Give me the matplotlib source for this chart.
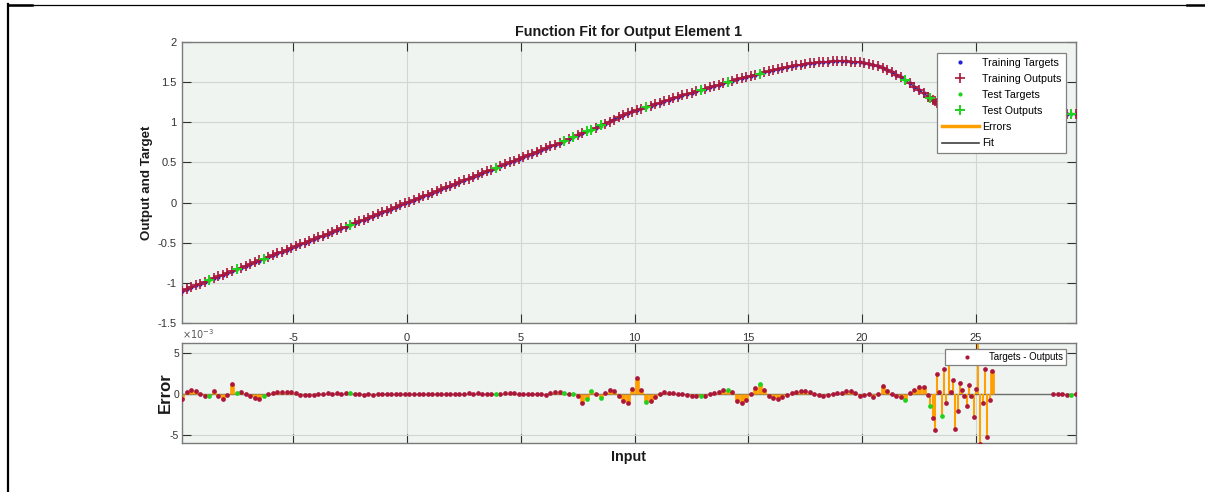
import numpy as np
import matplotlib
matplotlib.use("Agg")
import matplotlib.pyplot as plt
from matplotlib.lines import Line2D

plt.rcParams["font.family"] = ["Liberation Sans", "DejaVu Sans"]
plt.rcParams["axes.unicode_minus"] = False

# ---------------------------------------------------------------- data
# Input samples (three stretches of the input range)
inputs_smooth = [
    -9.9, -9.7, -9.5, -9.3, -9.1, -8.9, -8.7, -8.5, -8.3, -8.1,
    -7.9, -7.7, -7.5, -7.3, -7.1, -6.9, -6.7, -6.5, -6.3, -6.1,
    -5.9, -5.7, -5.5, -5.3, -5.1, -4.9, -4.7, -4.5, -4.3, -4.1,
    -3.9, -3.7, -3.5, -3.3, -3.1, -2.9, -2.7, -2.5, -2.3, -2.1,
    -1.9, -1.7, -1.5, -1.3, -1.1, -0.9, -0.7, -0.5, -0.3, -0.1,
    0.1, 0.3, 0.5, 0.7, 0.9, 1.1, 1.3, 1.5, 1.7, 1.9,
    2.1, 2.3, 2.5, 2.7, 2.9, 3.1, 3.3, 3.5, 3.7, 3.9,
    4.1, 4.3, 4.5, 4.7, 4.9, 5.1, 5.3, 5.5, 5.7, 5.9,
    6.1, 6.3, 6.5, 6.7, 6.9, 7.1, 7.3, 7.5, 7.7, 7.9,
    8.1, 8.3, 8.5, 8.7, 8.9, 9.1, 9.3, 9.5, 9.7, 9.9,
    10.1, 10.3, 10.5, 10.7, 10.9, 11.1, 11.3, 11.5, 11.7, 11.9,
    12.1, 12.3, 12.5, 12.7, 12.9, 13.1, 13.3, 13.5, 13.7, 13.9,
    14.1, 14.3, 14.5, 14.7, 14.9, 15.1, 15.3, 15.5, 15.7, 15.9,
    16.1, 16.3, 16.5, 16.7, 16.9, 17.1, 17.3, 17.5, 17.7, 17.9,
    18.1, 18.3, 18.5, 18.7, 18.9, 19.1, 19.3, 19.5, 19.7, 19.9,
    20.1, 20.3, 20.5, 20.7, 20.9, 21.1, 21.3, 21.5, 21.7, 21.9,
    22.1, 22.3, 22.5, 22.7, 22.9,
]
inputs_dense = [
    23.0, 23.1, 23.2, 23.3, 23.4, 23.5, 23.6, 23.7, 23.8, 23.9,
    24.0, 24.1, 24.2, 24.3, 24.4, 24.5, 24.6, 24.7, 24.8, 24.9,
    25.0, 25.1, 25.2, 25.3, 25.4, 25.5, 25.6, 25.7,
]
inputs_tail = [28.4, 28.6, 28.8, 29.0, 29.2, 29.4]

targets_smooth = [
    -1.099, -1.077, -1.055, -1.032, -1.010, -0.988, -0.966, -0.944, -0.921, -0.899,
    -0.877, -0.855, -0.833, -0.810, -0.788, -0.766, -0.744, -0.722, -0.699, -0.677,
    -0.655, -0.633, -0.611, -0.588, -0.566, -0.544, -0.522, -0.500, -0.477, -0.455,
    -0.433, -0.411, -0.389, -0.366, -0.344, -0.322, -0.300, -0.278, -0.255, -0.233,
    -0.211, -0.189, -0.167, -0.144, -0.122, -0.100, -0.078, -0.056, -0.033, -0.011,
    0.011, 0.033, 0.056, 0.078, 0.100, 0.122, 0.144, 0.167, 0.189, 0.211,
    0.233, 0.255, 0.278, 0.300, 0.322, 0.344, 0.366, 0.389, 0.411, 0.433,
    0.455, 0.477, 0.500, 0.522, 0.544, 0.566, 0.588, 0.611, 0.633, 0.655,
    0.677, 0.699, 0.722, 0.744, 0.767, 0.790, 0.813, 0.837, 0.861, 0.886,
    0.910, 0.935, 0.960, 0.985, 1.010, 1.035, 1.060, 1.085, 1.110, 1.135,
    1.155, 1.172, 1.188, 1.207, 1.225, 1.243, 1.262, 1.280, 1.298, 1.316,
    1.334, 1.352, 1.369, 1.386, 1.402, 1.419, 1.436, 1.453, 1.470, 1.487,
    1.504, 1.520, 1.536, 1.551, 1.566, 1.581, 1.595, 1.609, 1.622, 1.637,
    1.651, 1.664, 1.676, 1.687, 1.698, 1.708, 1.719, 1.729, 1.737, 1.744,
    1.750, 1.754, 1.757, 1.759, 1.760, 1.760, 1.759, 1.757, 1.753, 1.747,
    1.739, 1.728, 1.714, 1.698, 1.679, 1.655, 1.626, 1.594, 1.560, 1.523,
    1.485, 1.445, 1.405, 1.363, 1.320,
]
targets_dense = [
    1.300, 1.280, 1.262, 1.244, 1.228, 1.212, 1.198, 1.186, 1.175, 1.165,
    1.157, 1.150, 1.144, 1.139, 1.135, 1.131, 1.128, 1.125, 1.123, 1.121,
    1.119, 1.118, 1.117, 1.116, 1.115, 1.114, 1.113, 1.113,
]
targets_tail = [1.110, 1.110, 1.109, 1.109, 1.108, 1.108]

# Targets - Outputs, in units of 1e-3
errors_smooth = [
    -0.60, 0.30, 0.50, 0.35, 0.00, -0.20, -0.20, 0.40, -0.20, -0.65,
    -0.10, 1.20, 0.15, 0.30, 0.00, -0.20, -0.45, -0.60, -0.25, 0.00,
    0.15, 0.25, 0.30, 0.25, 0.20, 0.10, -0.10, -0.15, -0.10, -0.15,
    -0.05, 0.05, 0.10, 0.05, 0.10, 0.05, 0.10, 0.10, 0.05, 0.00,
    -0.10, 0.00, -0.10, 0.05, 0.00, 0.05, 0.00, 0.05, 0.00, 0.05,
    0.00, 0.05, -0.05, 0.05, 0.00, -0.05, 0.00, -0.05, 0.05, 0.00,
    0.05, -0.05, 0.05, 0.10, 0.05, 0.10, 0.05, 0.00, 0.05, 0.00,
    0.05, 0.10, 0.15, 0.10, 0.05, 0.05, 0.05, 0.00, 0.00, -0.05,
    -0.10, 0.10, 0.30, 0.30, 0.15, 0.00, 0.00, -0.30, -1.05, -0.60,
    0.40, 0.00, -0.45, 0.10, 0.55, 0.35, -0.30, -0.90, -1.15, 0.60,
    2.00, 0.50, -1.00, -0.85, -0.40, 0.05, 0.20, 0.10, 0.15, 0.05,
    -0.05, -0.15, -0.25, -0.30, -0.25, -0.20, -0.05, 0.10, 0.30, 0.45,
    0.55, 0.20, -0.80, -1.10, -0.70, 0.00, 0.70, 1.25, 0.50, -0.20,
    -0.45, -0.60, -0.40, -0.10, 0.10, 0.30, 0.40, 0.35, 0.20, 0.05,
    -0.10, -0.20, -0.10, 0.05, 0.10, 0.15, 0.35, 0.40, 0.10, -0.20,
    -0.10, 0.05, -0.40, 0.00, 0.95, 0.40, 0.05, -0.20, -0.40, -0.70,
    0.10, 0.45, 0.90, 0.85, -0.10,
]
errors_dense = [
    -1.50, -2.95, -4.45, 2.50, 0.30, -2.65, 3.00, -1.10, 4.60, 0.20,
    1.70, -4.30, -2.10, 1.40, 0.50, -0.30, -1.45, 1.10, -0.30, -2.80,
    0.60, 7.00, -6.10, -1.10, 3.05, -5.20, -0.70, 2.80,
]
errors_tail = [-0.05, 0.00, -0.05, -0.10, -0.10, 0.05]

# Inputs held out as the test set
test_inputs = [-8.7, -7.5, -6.3, -2.5, 3.9, 6.9, 7.3, 7.9, 8.1, 8.5,
               10.5, 12.9, 14.1, 15.5, 21.9, 23.0, 23.5, 29.2]

x_ticks = [-5, 0, 5, 10, 15, 20, 25]
y_ticks_fit = [-1.5, -1, -0.5, 0, 0.5, 1, 1.5, 2]
y_ticklabels_fit = ["-1.5", "-1", "-0.5", "0", "0.5", "1", "1.5", "2"]
y_ticks_err = [-5e-3, 0, 5e-3]
y_ticklabels_err = ["-5", "0", "5"]

# ---------------------------------------------------------------- arrays
x = np.array(inputs_smooth + inputs_dense + inputs_tail)
t = np.array(targets_smooth + targets_dense + targets_tail)
e = np.array(errors_smooth + errors_dense + errors_tail) * 1e-3
y = t - e
is_test = np.isin(np.round(x, 2), np.round(test_inputs, 2))
is_train = ~is_test

BLUE = "#2020d8"
RED = "#ac163a"
GREEN = "#1ed21e"
ORANGE = "#ffa000"
FIT = "#404040"
FACE = "#eff4f0"
GRID = "#d2d6d3"
SPINE = "#7a7a7a"
TICK = "#303030"
LABEL = "#333333"

fig = plt.figure(figsize=(12.05, 4.92), dpi=100)

ax1 = fig.add_axes([0.1510, 0.3435, 0.7419, 0.5711])
ax2 = fig.add_axes([0.1510, 0.1002, 0.7419, 0.2020])

for ax in (ax1, ax2):
    ax.set_facecolor(FACE)
    ax.grid(True, color=GRID, lw=0.8)
    ax.set_axisbelow(True)
    for s in ax.spines.values():
        s.set_color(SPINE)
        s.set_linewidth(1.0)
    ax.tick_params(direction="in", top=True, right=True, length=6.5,
                   width=0.8, color=TICK, labelcolor=LABEL)
    ax.set_xticks(x_ticks)
    ax.set_xlim(x.min(), x.max())

# ---------------------------------------------------------------- fit panel
ax1.plot(x, y, color=FIT, lw=1.0, zorder=2)
ax1.plot(x[is_train], t[is_train], ls="none", marker=".", ms=4, color=BLUE, zorder=3)
ax1.plot(x[is_train], y[is_train], ls="none", marker="+", ms=7, mew=1.2,
         color=RED, zorder=4)
ax1.plot(x[is_test], t[is_test], ls="none", marker=".", ms=4, color=GREEN, zorder=5)
ax1.plot(x[is_test], y[is_test], ls="none", marker="+", ms=7.5, mew=1.4,
         color=GREEN, zorder=6)

ax1.set_ylim(-1.5, 2)
ax1.set_yticks(y_ticks_fit)
ax1.set_yticklabels(y_ticklabels_fit)
ax1.tick_params(axis="x", labelsize=8, pad=7)
ax1.tick_params(axis="y", labelsize=8, pad=4)
ax1.set_title("Function Fit for Output Element 1", fontsize=10.3,
              fontweight="bold", pad=4, color="#1a1a1a")
ax1.set_ylabel("Output and Target", fontsize=9.6, fontweight="bold", color="#1a1a1a")
ax1.yaxis.set_label_coords(-0.0322, 0.5)

handles = [
    Line2D([], [], ls="none", marker=".", ms=4, color=BLUE),
    Line2D([], [], ls="none", marker="+", ms=7, mew=1.2, color=RED),
    Line2D([], [], ls="none", marker=".", ms=4, color=GREEN),
    Line2D([], [], ls="none", marker="+", ms=7.5, mew=1.4, color=GREEN),
    Line2D([], [], color=ORANGE, lw=2.5),
    Line2D([], [], color=FIT, lw=1.2),
]
labels = ["Training Targets", "Training Outputs", "Test Targets",
          "Test Outputs", "Errors", "Fit"]
leg1 = ax1.legend(handles, labels, loc="upper right",
                  bbox_to_anchor=(0.9888, 0.9609), borderaxespad=0,
                  fontsize=7.7, handlelength=3.4, handletextpad=0.3,
                  labelspacing=0.57, borderpad=0.45, fancybox=False,
                  framealpha=1, edgecolor="#808080")
leg1.get_frame().set_linewidth(0.9)
leg1.set_zorder(10)

# ---------------------------------------------------------------- error panel
spacing = np.gradient(x)
stem_w = np.where(spacing > 0.15, 3.4, 1.5)
ax2.axhline(0, color="#6e6e6e", lw=1.0, zorder=1.5)
ax2.vlines(x, 0, e, colors=ORANGE, linewidths=stem_w, capstyle="butt", zorder=2)
ax2.plot(x[is_train], e[is_train], ls="none", marker="o", ms=3.4, mew=0,
         color=RED, zorder=3)
ax2.plot(x[is_test], e[is_test], ls="none", marker="o", ms=3.4, mew=0,
         color=GREEN, zorder=4)

ax2.set_ylim(-5.95e-3, 6.2e-3)
ax2.set_yticks(y_ticks_err)
ax2.set_yticklabels(y_ticklabels_err)
ax2.text(0.0, 1.02, r"$\times10^{-3}$", transform=ax2.transAxes,
         fontsize=7, color="#555555", ha="left", va="bottom")
ax2.tick_params(axis="x", labelbottom=False)
ax2.tick_params(axis="y", labelsize=7.5, pad=2)
ax2.set_xlabel("Input", fontsize=10.3, fontweight="bold", labelpad=5, color="#1a1a1a")
ax2.set_ylabel("Error", fontsize=12, fontweight="bold", color="#1a1a1a")
ax2.yaxis.set_label_coords(-0.0105, 0.5)

leg2 = ax2.legend([Line2D([], [], ls="none", marker="o", ms=3, mew=0, color=RED)],
                  ["Targets - Outputs"], loc="upper right",
                  bbox_to_anchor=(0.9888, 0.943), borderaxespad=0,
                  fontsize=6.9, handlelength=3.9, handletextpad=0.4,
                  borderpad=0.3, fancybox=False, framealpha=1,
                  edgecolor="#808080")
leg2.get_frame().set_linewidth(0.9)
leg2.set_zorder(10)

# ---------------------------------------------------------------- page border
W, H = 1205.0, 492.0
def border(x0, x1, y0, y1, lw):
    fig.add_artist(Line2D([x0 / W, x1 / W], [1 - y0 / H, 1 - y1 / H],
                          transform=fig.transFigure, color="black", lw=lw))

border(8, 8, 4, 492, 1.6)
border(8, 1187, 4.5, 4.5, 0.9)
border(8, 32, 5, 5, 1.8)
border(1187, 1205, 5, 5, 1.8)

fig.savefig("out.png", dpi=100)
